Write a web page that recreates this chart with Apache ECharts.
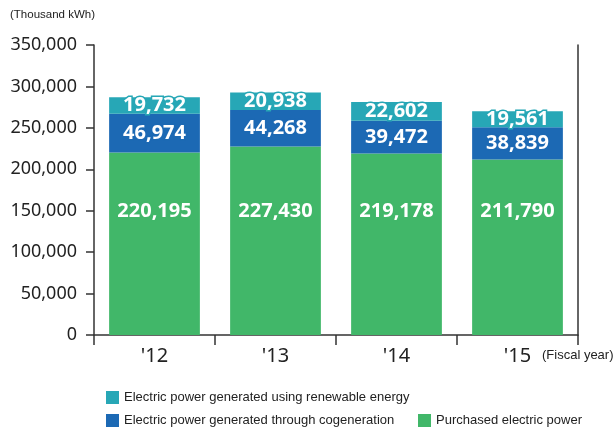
<!DOCTYPE html>
<html><head><meta charset="utf-8">
<script src="https://cdn.jsdelivr.net/npm/echarts@6/dist/echarts.min.js"></script>
<style>html,body{margin:0;padding:0;background:#fff}#c{width:616px;height:427px}</style>
</head><body><div id="c"></div>
<script>
const categories = ["'12", "'13", "'14", "'15"];
const purchased = [220195, 227430, 219178, 211790];
const cogeneration = [46974, 44268, 39472, 38839];
const renewable = [19732, 20938, 22602, 19561];
const yTicks = [0, 50000, 100000, 150000, 200000, 250000, 300000, 350000];

const cGreen = '#41b769', cBlue = '#1c69b4', cTeal = '#27a7b6';
const fmt = v => v.toLocaleString('en-US');
function lbl(color, extra){
  return Object.assign({show:true, position:'inside', color:'#fff', fontFamily:'Noto Sans', fontWeight:'bold', fontSize:20,
    textBorderColor:color, textBorderWidth:3, formatter:p=>fmt(p.value)}, extra||{});
}
const chart = echarts.init(document.getElementById('c'));
chart.setOption({
  animation:false,
  grid:{left:94, right:38, top:45, bottom:92},
  xAxis:{type:'category', data:categories,
    axisLine:{lineStyle:{color:'#333', width:1.5}},
    axisTick:{show:true, length:10, alignWithLabel:false, lineStyle:{color:'#333', width:1.5}},
    axisLabel:{color:'#222', fontFamily:'Noto Sans', fontSize:20, margin:11}},
  yAxis:[{type:'value', min:yTicks[0], max:yTicks[yTicks.length-1], interval:yTicks[1]-yTicks[0],
    axisLine:{show:true, lineStyle:{color:'#333', width:1.5}},
    axisTick:{show:true, length:8, lineStyle:{color:'#333', width:1.5}},
    splitLine:{show:false},
    axisLabel:{color:'#222', fontFamily:'Noto Sans', fontSize:18, margin:17, formatter:v=>fmt(v)}},
   {type:'value', min:yTicks[0], max:yTicks[yTicks.length-1], interval:yTicks[1]-yTicks[0], position:'right',
    axisLine:{show:true, lineStyle:{color:'#333', width:1.5}},
    axisTick:{show:false}, axisLabel:{show:false}, splitLine:{show:false}}],
  legend:[
    {data:['Electric power generated using renewable energy'], left:106, top:389},
    {data:['Electric power generated through cogeneration'], left:106, top:412},
    {data:['Purchased electric power'], left:418, top:412}
  ].map(l=>Object.assign(l,{itemWidth:13, itemHeight:13, icon:'rect', itemGap:10, padding:[2,2,2,0],
    textStyle:{fontFamily:'Liberation Sans', fontSize:13, color:'#222'}})),
  graphic:[
    {type:'text', left:10, top:9, style:{text:'(Thousand kWh)', fontFamily:'Liberation Sans', fontSize:11.5, fill:'#222'}},
    {type:'text', left:542, top:349, style:{text:'(Fiscal year)', fontFamily:'Liberation Sans', fontSize:13, fill:'#222'}}
  ],
  series:[
    {name:'Purchased electric power', type:'bar', stack:'t', data:purchased, barWidth:'75%',
      itemStyle:{color:cGreen}, label:lbl(cGreen, {position:'insideBottom', distance:114})},
    {name:'Electric power generated through cogeneration', type:'bar', stack:'t', data:cogeneration,
      itemStyle:{color:cBlue}, label:lbl(cBlue)},
    {name:'Electric power generated using renewable energy', type:'bar', stack:'t', data:renewable,
      itemStyle:{color:cTeal}, label:lbl(cTeal)}
  ]
});
</script></body></html>
